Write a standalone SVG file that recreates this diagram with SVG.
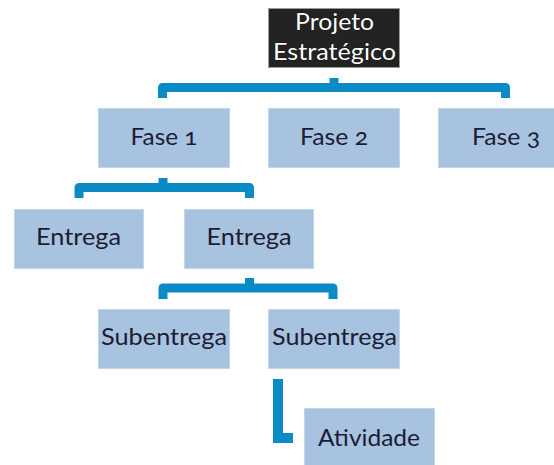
<svg xmlns="http://www.w3.org/2000/svg" width="554" height="465" viewBox="0 0 554 465">
<style>
.box{fill:#a7c3e0;stroke:#c3d6eb;stroke-width:1}
.root{fill:#232323;stroke:#9a9a9a;stroke-width:1}
.t{font-family:Lato,"Open Sans","Noto Sans",sans-serif;font-size:24px;fill:#1c1c34;text-anchor:middle;font-variant-numeric:oldstyle-nums}
.rt{font-family:Lato,"Open Sans","Noto Sans",sans-serif;font-size:24px;fill:#ffffff;text-anchor:middle;stroke:#000;stroke-width:0.6;paint-order:stroke}
.c{fill:none;stroke:#0a8bc6;stroke-width:9;stroke-linejoin:round}
.l{fill:none;stroke:#0a8bc6;stroke-width:10;stroke-linejoin:miter}
</style>
<rect width="554" height="465" fill="#ffffff"/>
<g id="connectors">
<path class="c" d="M162.5,98 V87.5 H505.5 V98"/>
<path class="c" d="M334,78 V88" style="stroke-linejoin:miter"/>
<path class="c" d="M79,198 V187.5 H249.5 V198"/>
<path class="c" d="M163,178 V188"/>
<path class="c" d="M163,299 V288 H333 V299"/>
<path class="c" d="M249.5,278 V288"/>
<path class="l" d="M278,379 V438 H293"/>
</g>
<g id="root">
<rect class="root" x="268.5" y="8.5" width="131" height="59"/>
<text class="rt" x="334.5" y="30" textLength="79" lengthAdjust="spacingAndGlyphs">Projeto</text>
<text class="rt" x="334.5" y="60" textLength="123" lengthAdjust="spacingAndGlyphs">Estratégico</text>
</g>
<g id="fase1">
<rect class="box" x="98.5" y="108.5" width="131" height="59"/>
<text class="t" x="164" y="145" textLength="67" lengthAdjust="spacingAndGlyphs">Fase 1</text>
</g>
<g id="fase2">
<rect class="box" x="268.5" y="108.5" width="131" height="59"/>
<text class="t" x="334" y="145" textLength="68" lengthAdjust="spacingAndGlyphs">Fase 2</text>
</g>
<g id="fase3">
<rect class="box" x="438.5" y="108.5" width="131" height="59"/>
<text class="t" x="506" y="145" textLength="68" lengthAdjust="spacingAndGlyphs">Fase 3</text>
</g>
<g id="entrega1">
<rect class="box" x="14.5" y="209.5" width="129" height="59"/>
<text class="t" x="78.5" y="245" textLength="85" lengthAdjust="spacingAndGlyphs">Entrega</text>
</g>
<g id="entrega2">
<rect class="box" x="184.5" y="209.5" width="129" height="59"/>
<text class="t" x="249" y="245" textLength="85" lengthAdjust="spacingAndGlyphs">Entrega</text>
</g>
<g id="subentrega1">
<rect class="box" x="98.5" y="309.5" width="131" height="59"/>
<text class="t" x="164" y="345" textLength="126" lengthAdjust="spacingAndGlyphs">Subentrega</text>
</g>
<g id="subentrega2">
<rect class="box" x="268.5" y="309.5" width="131" height="59"/>
<text class="t" x="334.5" y="345" textLength="125" lengthAdjust="spacingAndGlyphs">Subentrega</text>
</g>
<g id="atividade">
<rect class="box" x="304.5" y="408.5" width="130" height="60"/>
<text class="t" x="369" y="446" textLength="102" lengthAdjust="spacingAndGlyphs">Atividade</text>
</g>
</svg>
